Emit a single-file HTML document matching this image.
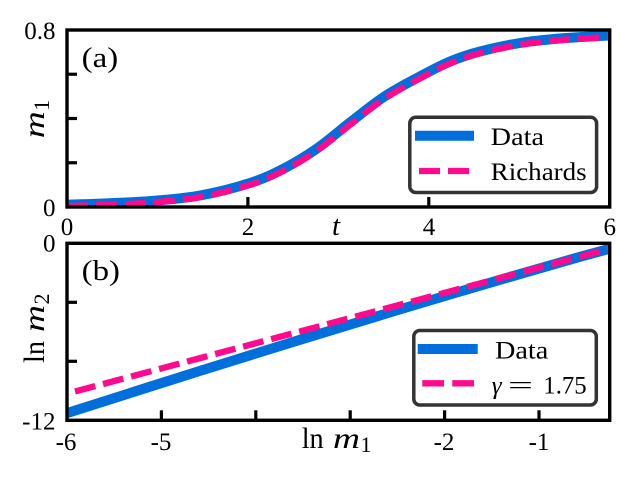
<!DOCTYPE html>
<html><head><meta charset="utf-8"><style>
html,body{margin:0;padding:0;background:#fff;}
svg{display:block;}
text{font-family:"Liberation Serif","DejaVu Serif",serif;fill:#000;}
</style></head><body>
<svg width="637" height="480" viewBox="0 0 637 480" xmlns="http://www.w3.org/2000/svg">
<defs>
<clipPath id="ca"><rect x="67" y="30" width="542.7" height="177"/></clipPath>
<clipPath id="cb"><rect x="67" y="243.3" width="542.7" height="177"/></clipPath>
</defs>
<rect width="637" height="480" fill="#fff"/>

<!-- Panel (a) curves -->
<g clip-path="url(#ca)" fill="none">
<path d="M58,204.8 L67,204.6 C78,204.32 86.17,204.18 100,203.6 C113.83,203.02 133.33,202.45 150,201.1 C166.67,199.75 183.33,198.52 200,195.5 C216.67,192.48 236.17,187.42 250,183 C263.83,178.58 271.83,174.75 283,169 C294.17,163.25 305.83,156.25 317,148.5 C328.17,140.75 339,131 350,122.5 C361,114 371.83,104.92 383,97.5 C394.17,90.08 405.83,84 417,78 C428.17,72 439.5,65.92 450,61.5 C460.5,57.17 468.33,54.58 480,51.5 C491.67,48.42 506.67,45.17 520,43 C533.33,40.83 545,39.75 560,38.5 C575,37.25 593.33,36.33 610,35.5 L620,35" stroke="#006fdc" stroke-width="10" stroke-linejoin="round"/>
<path transform="translate(1,1.5)" d="M66,204.6 C78,204.32 86.17,204.18 100,203.6 C113.83,203.02 133.33,202.45 150,201.1 C166.67,199.75 183.33,198.52 200,195.5 C216.67,192.48 236.17,187.42 250,183 C263.83,178.58 271.83,174.75 283,169 C294.17,163.25 305.83,156.25 317,148.5 C328.17,140.75 339,131 350,122.5 C361,114 371.83,104.92 383,97.5 C394.17,90.08 405.83,84 417,78 C428.17,72 439.5,65.92 450,61.5 C460.5,57.17 468.33,54.58 480,51.5 C491.67,48.42 506.67,45.17 520,43 C533.33,40.83 545,39.75 560,38.5 C575,37.25 593.33,36.33 610,35.5 L620,35" stroke="#ff0a8c" stroke-width="6.3" stroke-dasharray="21 8"/>
</g>

<!-- Panel (b) curves -->
<g clip-path="url(#cb)" fill="none">
<polyline points="60,415.4 67,413.1 100,402.6 150,386.7 200,370.9 250,355.3 300,339.8 350,324.6 400,309.4 450,294.5 500,279.8 550,265.4 580,256.8 615,247.3" stroke="#006fdc" stroke-width="10" stroke-linejoin="round"/>
<line x1="75" y1="391.5" x2="620" y2="246" stroke="#ff0a8c" stroke-width="6.3" stroke-dasharray="21 8"/>
</g>

<!-- Frames -->
<rect x="67" y="30" width="542.7" height="177" fill="none" stroke="#000" stroke-width="3.4"/>
<rect x="67" y="243.3" width="542.7" height="177" fill="none" stroke="#000" stroke-width="3.4"/>

<!-- Ticks (a) -->
<g stroke="#000" stroke-width="3.2">
<line x1="67" y1="162.75" x2="77" y2="162.75"/>
<line x1="67" y1="118.5" x2="77" y2="118.5"/>
<line x1="67" y1="74.25" x2="77" y2="74.25"/>
<line x1="247.9" y1="207" x2="247.9" y2="197"/>
<line x1="428.8" y1="207" x2="428.8" y2="197"/>
<!-- Ticks (b) -->
<line x1="67" y1="302.3" x2="77" y2="302.3"/>
<line x1="67" y1="361.3" x2="77" y2="361.3"/>
<line x1="161.4" y1="420.3" x2="161.4" y2="410.3"/>
<line x1="255.8" y1="420.3" x2="255.8" y2="410.3"/>
<line x1="350.2" y1="420.3" x2="350.2" y2="410.3"/>
<line x1="444.6" y1="420.3" x2="444.6" y2="410.3"/>
<line x1="539" y1="420.3" x2="539" y2="410.3"/>
</g>

<!-- Tick labels (a) -->
<g font-size="25">
<text x="55.5" y="38.8" text-anchor="end">0.8</text>
<text x="55.5" y="216" text-anchor="end">0</text>
<text x="67" y="235" text-anchor="middle">0</text>
<text x="248" y="235" text-anchor="middle">2</text>
<text x="429" y="235" text-anchor="middle">4</text>
<text x="609.7" y="235" text-anchor="middle">6</text>
<!-- Tick labels (b) -->
<text x="55.5" y="251.5" text-anchor="end">0</text>
<text x="55.5" y="429.5" text-anchor="end">-12</text>
<text x="66" y="450" text-anchor="middle">-6</text>
<text x="161" y="450" text-anchor="middle">-5</text>
<text x="444" y="450" text-anchor="middle">-2</text>
<text x="539" y="450" text-anchor="middle">-1</text>
</g>

<!-- Axis labels -->
<text x="332" y="235" font-size="29" font-style="italic">t</text>
<text x="301.7" y="448" font-size="30" textLength="22" lengthAdjust="spacingAndGlyphs">ln</text>
<text x="333" y="448" font-size="30" font-style="italic" textLength="27" lengthAdjust="spacingAndGlyphs">m</text>
<text x="360.5" y="452" font-size="22">1</text>

<g transform="translate(44,138.3) rotate(-90)">
<text x="0" y="0" font-size="30" font-style="italic" textLength="27" lengthAdjust="spacingAndGlyphs">m</text>
<text x="27.5" y="5" font-size="22">1</text>
</g>
<g transform="translate(44,363) rotate(-90)">
<text x="0" y="0" font-size="30" textLength="22" lengthAdjust="spacingAndGlyphs">ln</text>
<text x="31" y="0" font-size="30" font-style="italic" textLength="27" lengthAdjust="spacingAndGlyphs">m</text>
<text x="58.5" y="5" font-size="22">2</text>
</g>

<!-- Panel labels -->
<text x="81.7" y="67" font-size="28" textLength="36.5" lengthAdjust="spacingAndGlyphs">(a)</text>
<text x="81.7" y="280" font-size="28" textLength="38.3" lengthAdjust="spacingAndGlyphs">(b)</text>

<!-- Legend (a) -->
<rect x="409.8" y="117.3" width="186.8" height="75.2" rx="6" ry="6" fill="#fff" stroke="#333" stroke-width="3.5"/>
<line x1="420" y1="135.7" x2="469" y2="135.7" stroke="#006fdc" stroke-width="10" stroke-linecap="square"/>
<line x1="419" y1="171" x2="470" y2="171" stroke="#ff0a8c" stroke-width="6.3" stroke-dasharray="21 8"/>
<text x="490.7" y="145" font-size="25" textLength="53.3" lengthAdjust="spacingAndGlyphs">Data</text>
<text x="490.7" y="180" font-size="25" textLength="96" lengthAdjust="spacingAndGlyphs">Richards</text>

<!-- Legend (b) -->
<rect x="413.8" y="330.5" width="182.5" height="74.5" rx="6" ry="6" fill="#fff" stroke="#333" stroke-width="3.5"/>
<line x1="422.7" y1="349" x2="472.7" y2="349" stroke="#006fdc" stroke-width="10" stroke-linecap="square"/>
<line x1="422.3" y1="383.3" x2="474" y2="383.3" stroke="#ff0a8c" stroke-width="6.3" stroke-dasharray="21.7 8.3"/>
<text x="495" y="358.3" font-size="25" textLength="53.3" lengthAdjust="spacingAndGlyphs">Data</text>
<text x="491.7" y="393.3" font-size="25" font-style="italic">γ</text>
<text x="508" y="393.3" font-size="25" textLength="25" lengthAdjust="spacingAndGlyphs">=</text>
<text x="543.3" y="393.3" font-size="25" textLength="43.4" lengthAdjust="spacingAndGlyphs">1.75</text>
</svg>
</body></html>
